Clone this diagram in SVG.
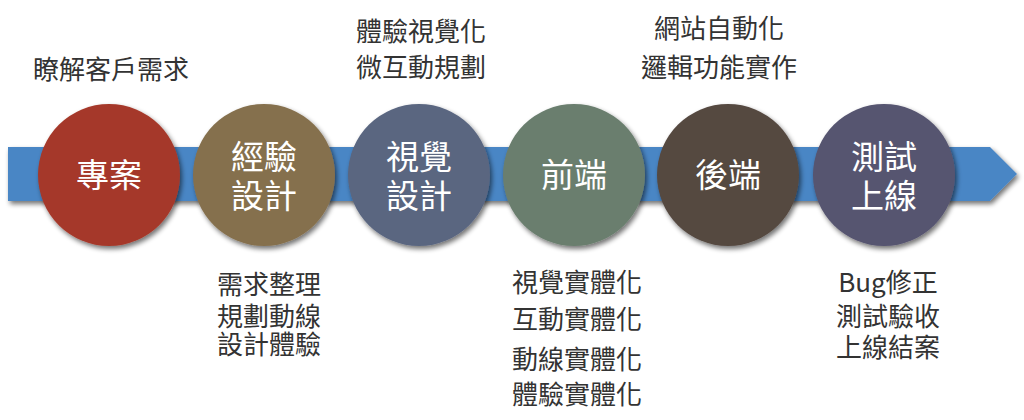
<svg xmlns="http://www.w3.org/2000/svg" width="1024" height="420" viewBox="0 0 1024 420">
<defs>
<filter id="sh" x="-20%" y="-20%" width="140%" height="140%">
<feGaussianBlur in="SourceAlpha" stdDeviation="2.5"/>
<feOffset dx="2" dy="3" result="b"/>
<feComponentTransfer><feFuncA type="linear" slope="0.55"/></feComponentTransfer>
<feMerge><feMergeNode/><feMergeNode in="SourceGraphic"/></feMerge>
</filter>
<style>
.c{font-family:"Noto Sans CJK TC","Noto Sans CJK SC",sans-serif;font-size:33px;fill:#ffffff;text-anchor:middle}
.t{font-family:"Noto Sans CJK TC","Noto Sans CJK SC",sans-serif;font-size:26px;fill:#333333;text-anchor:middle}
</style>
</defs>
<rect width="1024" height="420" fill="#ffffff"/>
<g id="connectors">
<polygon points="8,147 990,147 1017,174 990,201 8,201" fill="#4A86C5" filter="url(#sh)"/>
</g>
<g id="n1">
<circle cx="109" cy="175" r="71" fill="#A5392A" filter="url(#sh)"/>
<text class="c" x="109" y="187">專案</text>
<text class="t" x="111" y="79">瞭解客戶需求</text>
</g>
<g id="n2">
<circle cx="264" cy="175" r="71" fill="#85704E" filter="url(#sh)"/>
<text class="c" x="264" y="169">經驗</text>
<text class="c" x="264" y="208">設計</text>
<text class="t" x="269" y="294">需求整理</text>
<text class="t" x="269" y="326">規劃動線</text>
<text class="t" x="269" y="354">設計體驗</text>
</g>
<g id="n3">
<circle cx="419" cy="175" r="71" fill="#5A6680" filter="url(#sh)"/>
<text class="c" x="419" y="169">視覺</text>
<text class="c" x="419" y="208">設計</text>
<text class="t" x="421" y="41">體驗視覺化</text>
<text class="t" x="421" y="77">微互動規劃</text>
</g>
<g id="n4">
<circle cx="574" cy="175" r="71" fill="#6A7E6E" filter="url(#sh)"/>
<text class="c" x="574" y="187">前端</text>
<text class="t" x="577" y="292">視覺實體化</text>
<text class="t" x="577" y="329">互動實體化</text>
<text class="t" x="577" y="369">動線實體化</text>
<text class="t" x="577" y="404">體驗實體化</text>
</g>
<g id="n5">
<circle cx="728" cy="175" r="71" fill="#554840" filter="url(#sh)"/>
<text class="c" x="728" y="187">後端</text>
<text class="t" x="719" y="38">網站自動化</text>
<text class="t" x="719" y="77">邏輯功能實作</text>
</g>
<g id="n6">
<circle cx="884" cy="175" r="71" fill="#565470" filter="url(#sh)"/>
<text class="c" x="884" y="169">測試</text>
<text class="c" x="884" y="208">上線</text>
<text class="t" x="888" y="292">Bug修正</text>
<text class="t" x="888" y="326">測試驗收</text>
<text class="t" x="888" y="357">上線結案</text>
</g>
</svg>
